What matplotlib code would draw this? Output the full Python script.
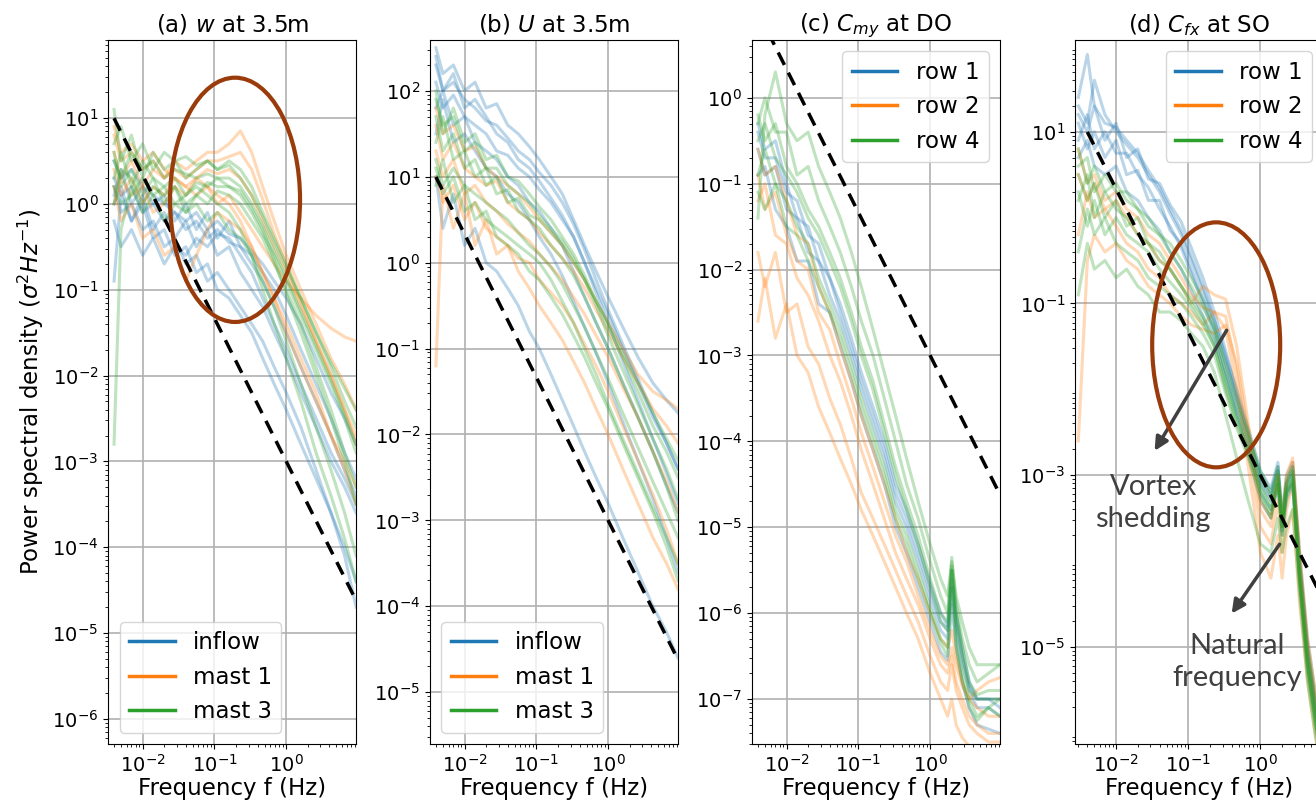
import numpy as np
import matplotlib.pyplot as plt
from matplotlib.patches import Ellipse
from matplotlib.lines import Line2D

plt.rcParams['font.family'] = ['DejaVu Sans']

# ---- frequency grids (Hz) ----
f_ab = [0.004, 0.005, 0.007, 0.01, 0.014, 0.02, 0.028, 0.04, 0.056, 0.08, 0.11,
        0.16, 0.23, 0.33, 0.47, 0.68, 1.0, 1.6, 2.6, 4.2, 6.5, 9.4]
f_c = [0.004, 0.005, 0.007, 0.01, 0.014, 0.02, 0.028, 0.04, 0.056, 0.08, 0.11,
       0.16, 0.23, 0.33, 0.47, 0.68, 1.0, 1.4, 1.75, 2.0, 2.3, 2.8, 3.5, 4.5, 6.5, 9.4]
f_d = [0.003, 0.004, 0.005, 0.007, 0.01, 0.014, 0.02, 0.028, 0.04, 0.056, 0.08, 0.11,
       0.16, 0.23, 0.33, 0.47, 0.68, 1.0, 1.4, 1.75, 2.0, 2.3, 2.8, 3.5, 4.5, 5.7, 7.4]

# ---- (a) w at 3.5m, log10 PSD ----
w_inflow = [
    [0.3, 0.1, 0.2, -0.1, 0.0, -0.2, -0.1, -0.3, -0.2, -0.4, -0.3, -0.45, -0.5, -0.7, -0.9, -1.2, -1.5, -1.9, -2.3, -2.7, -3.1, -3.4],
    [0.0, 0.2, -0.2, 0.1, -0.3, -0.1, -0.4, -0.2, -0.5, -0.3, -0.6, -0.5, -0.8, -1.0, -1.2, -1.5, -1.8, -2.2, -2.6, -3.0, -3.3, -3.6],
    [-0.9, 0.1, -0.2, 0.0, -0.4, -0.3, -0.6, -0.5, -0.8, -0.7, -1.0, -1.1, -1.3, -1.5, -1.8, -2.1, -2.4, -2.8, -3.2, -3.6, -4.0, -4.4],
    [0.5, 0.3, 0.4, 0.2, 0.1, 0.0, -0.1, -0.2, -0.1, -0.3, -0.2, -0.35, -0.4, -0.55, -0.7, -0.9, -1.1, -1.4, -1.8, -2.2, -2.5, -2.8],
    [0.2, -0.1, 0.0, -0.3, -0.2, -0.5, -0.4, -0.7, -0.6, -0.9, -0.8, -1.0, -1.2, -1.4, -1.6, -1.9, -2.2, -2.6, -3.1, -3.6, -4.1, -4.7],
    [-0.2, -0.5, -0.3, -0.6, -0.4, -0.7, -0.5, -0.6, -0.4, -0.5, -0.35, -0.4, -0.6, -0.8, -1.1, -1.4, -1.7, -2.1, -2.5, -2.9, -3.2, -3.5],
    [0.1, 0.4, 0.0, 0.2, 0.0, 0.1, -0.2, 0.0, -0.3, -0.1, -0.4, -0.2, -0.5, -0.6, -0.8, -1.0, -1.3, -1.7, -2.1, -2.5, -2.9, -3.2],
]
w_mast1 = [
    [0.8, 0.5, 0.6, 0.4, 0.5, 0.3, 0.5, 0.4, 0.5, 0.6, 0.6, 0.7, 0.85, 0.6, 0.2, -0.2, -0.6, -1.0, -1.4, -1.8, -2.1, -2.4],
    [0.4, 0.1, 0.3, 0.0, 0.2, 0.1, 0.3, 0.2, 0.3, 0.4, 0.35, 0.4, 0.3, 0.1, -0.2, -0.5, -0.8, -1.2, -1.6, -2.0, -2.4, -2.7],
    [0.2, -0.2, 0.0, -0.4, -0.3, -0.6, -0.5, -0.9, -0.6, -0.3, -0.1, -0.2, -0.3, -0.5, -0.8, -1.1, -1.4, -1.8, -2.2, -2.7, -3.1, -3.5],
    [0.9, 0.6, 0.7, 0.5, 0.6, 0.4, 0.3, 0.2, 0.1, 0.2, 0.0, 0.1, -0.1, -0.3, -0.5, -0.7, -0.9, -1.1, -1.3, -1.45, -1.55, -1.6],
    [0.0, 0.3, 0.1, 0.2, -0.1, 0.0, 0.2, 0.1, 0.3, 0.2, 0.1, 0.0, -0.2, -0.5, -0.8, -1.1, -1.5, -1.9, -2.3, -2.7, -3.0, -3.3],
    [0.6, 0.3, 0.5, 0.2, 0.4, 0.3, 0.4, 0.3, 0.4, 0.5, 0.5, 0.55, 0.6, 0.4, 0.05, -0.35, -0.7, -1.15, -1.6, -2.0, -2.4, -2.8],
]
w_mast3 = [
    [1.1, 0.5, 0.8, 0.3, 0.6, 0.4, 0.5, 0.3, 0.4, 0.5, 0.4, 0.5, 0.4, 0.2, -0.1, -0.4, -0.7, -1.1, -1.5, -1.9, -2.3, -2.6],
    [0.3, 0.6, 0.2, 0.5, 0.3, 0.2, 0.3, 0.1, 0.25, 0.2, 0.3, 0.2, 0.1, -0.1, -0.35, -0.6, -0.9, -1.3, -1.7, -2.1, -2.5, -2.9],
    [-2.8, -0.3, 0.2, -0.1, 0.1, -0.2, 0.0, -0.1, 0.1, 0.0, 0.15, 0.1, 0.0, -0.2, -0.4, -0.7, -1.0, -1.4, -1.9, -2.4, -2.9, -3.3],
    [0.6, 0.2, 0.4, 0.1, 0.3, 0.0, 0.2, -0.1, 0.0, -0.2, -0.1, -0.3, -0.4, -0.6, -0.9, -1.2, -1.6, -2.1, -2.6, -3.1, -3.6, -4.1],
    [0.7, 0.9, 0.5, 0.7, 0.4, 0.6, 0.5, 0.55, 0.45, 0.5, 0.4, 0.45, 0.3, 0.1, -0.15, -0.45, -0.75, -1.1, -1.5, -1.85, -2.15, -2.4],
    [0.2, 0.0, 0.1, 0.3, 0.1, 0.2, 0.0, 0.1, 0.2, 0.1, 0.0, -0.1, -0.3, -0.6, -1.0, -1.4, -1.8, -2.3, -2.9, -3.4, -3.9, -4.4],
    [0.5, 0.3, 0.6, 0.4, 0.5, 0.3, 0.4, 0.35, 0.3, 0.35, 0.3, 0.3, 0.2, 0.0, -0.25, -0.55, -0.85, -1.25, -1.65, -2.05, -2.45, -2.8],
    [0.0, 0.4, 0.3, 0.0, 0.2, 0.1, 0.2, 0.0, 0.1, 0.25, 0.2, 0.2, 0.15, -0.05, -0.3, -0.65, -1.05, -1.5, -2.0, -2.5, -3.0, -3.5],
]

# ---- (b) U at 3.5m ----
u_inflow = [
    [2.5, 2.2, 2.3, 2.0, 2.1, 1.8, 1.85, 1.6, 1.5, 1.35, 1.2, 1.0, 0.8, 0.5, 0.2, -0.1, -0.4, -0.75, -1.1, -1.4, -1.6, -1.75],
    [2.1, 1.8, 1.95, 1.7, 1.6, 1.5, 1.3, 1.25, 1.1, 1.0, 0.85, 0.7, 0.5, 0.3, 0.0, -0.3, -0.6, -1.0, -1.4, -1.8, -2.1, -2.4],
    [1.8, 2.0, 1.6, 1.7, 1.4, 1.3, 1.2, 1.0, 0.9, 0.7, 0.6, 0.4, 0.2, -0.1, -0.4, -0.7, -1.0, -1.4, -1.8, -2.2, -2.6, -2.9],
    [1.0, 0.4, 0.8, 0.2, 0.4, 0.0, -0.1, -0.3, -0.5, -0.8, -1.0, -1.3, -1.6, -1.9, -2.2, -2.5, -2.8, -3.2, -3.6, -4.0, -4.3, -4.6],
    [2.3, 2.0, 2.1, 1.9, 1.8, 1.65, 1.6, 1.45, 1.3, 1.2, 1.05, 0.9, 0.7, 0.45, 0.15, -0.2, -0.55, -0.95, -1.35, -1.75, -2.1, -2.4],
    [2.4, 2.0, 2.2, 1.8, 1.9, 1.7, 1.5, 1.4, 1.2, 1.1, 0.95, 0.75, 0.55, 0.3, 0.0, -0.35, -0.7, -1.15, -1.6, -2.05, -2.45, -2.8],
    [1.5, 1.9, 1.4, 1.5, 1.3, 1.1, 1.0, 0.8, 0.7, 0.5, 0.3, 0.1, -0.15, -0.45, -0.75, -1.05, -1.4, -1.85, -2.3, -2.75, -3.2, -3.6],
]
u_mast1 = [
    [1.6, 1.2, 1.4, 1.1, 1.0, 0.9, 0.95, 0.7, 0.6, 0.5, 0.35, 0.2, 0.05, -0.1, -0.3, -0.55, -0.8, -1.1, -1.4, -1.7, -1.9, -2.1],
    [1.0, 0.7, 0.9, 0.5, 0.7, 0.4, 0.3, 0.2, 0.05, 0.0, -0.2, -0.35, -0.5, -0.7, -0.95, -1.2, -1.5, -1.9, -2.3, -2.7, -3.1, -3.5],
    [-1.2, 0.9, 0.4, 0.8, 0.2, 0.5, 0.1, 0.2, -0.1, -0.3, -0.5, -0.7, -0.9, -1.15, -1.4, -1.7, -2.0, -2.4, -2.8, -3.2, -3.5, -3.8],
    [1.8, 1.5, 1.6, 1.3, 1.35, 1.1, 1.0, 0.9, 0.8, 0.65, 0.5, 0.35, 0.2, 0.0, -0.2, -0.45, -0.7, -1.0, -1.3, -1.5, -1.6, -1.7],
    [1.3, 1.0, 1.2, 0.8, 0.9, 0.7, 0.6, 0.45, 0.35, 0.25, 0.1, -0.05, -0.2, -0.4, -0.6, -0.85, -1.1, -1.45, -1.8, -2.2, -2.55, -2.9],
]
u_mast3 = [
    [2.0, 1.5, 1.8, 1.4, 1.5, 1.2, 1.25, 1.0, 0.95, 0.8, 0.65, 0.5, 0.3, 0.1, -0.15, -0.45, -0.75, -1.1, -1.5, -1.9, -2.2, -2.5],
    [1.4, 1.7, 1.2, 1.3, 1.0, 1.1, 0.8, 0.85, 0.6, 0.5, 0.4, 0.2, 0.05, -0.15, -0.4, -0.7, -1.0, -1.4, -1.8, -2.2, -2.6, -3.0],
    [0.9, 1.2, 0.7, 0.9, 0.5, 0.6, 0.3, 0.2, 0.1, -0.1, -0.2, -0.4, -0.6, -0.85, -1.1, -1.4, -1.7, -2.1, -2.5, -2.9, -3.3, -3.7],
    [1.7, 1.3, 1.5, 1.1, 1.2, 0.9, 1.0, 0.7, 0.75, 0.55, 0.5, 0.35, 0.2, 0.0, -0.2, -0.45, -0.7, -1.05, -1.4, -1.75, -2.05, -2.3],
    [1.1, 0.8, 1.0, 0.6, 0.7, 0.5, 0.4, 0.3, 0.2, 0.1, 0.0, -0.2, -0.45, -0.7, -1.0, -1.3, -1.65, -2.05, -2.45, -2.85, -3.2, -3.5],
    [1.9, 1.6, 1.7, 1.3, 1.4, 1.1, 1.1, 0.9, 0.8, 0.7, 0.55, 0.4, 0.25, 0.05, -0.2, -0.5, -0.85, -1.25, -1.65, -2.05, -2.4, -2.75],
    [1.2, 0.9, 1.1, 0.9, 0.8, 0.7, 0.6, 0.5, 0.35, 0.2, 0.1, -0.05, -0.25, -0.5, -0.75, -1.05, -1.35, -1.75, -2.15, -2.55, -2.9, -3.2],
]

# ---- (c) C_my at DO ----
cmy_row1 = [
    [-0.4, -0.7, -0.7, -1.1, -1.2, -1.6, -1.7, -2.1, -2.4, -2.8, -3.2, -3.6, -4.0, -4.5, -4.8, -5.2, -5.65, -6.0, -6.15, -5.5, -6.0, -6.4, -6.8, -7.0, -7.0, -7.1],
    [-0.6, -0.9, -0.8, -1.3, -1.4, -1.8, -1.9, -2.3, -2.6, -3.0, -3.4, -3.8, -4.2, -4.7, -5.0, -5.4, -5.85, -6.2, -6.3, -5.6, -6.2, -6.6, -6.9, -7.1, -7.1, -7.2],
    [-0.9, -0.8, -1.3, -1.5, -1.9, -1.9, -2.4, -2.5, -2.9, -3.3, -3.7, -4.1, -4.5, -5.0, -5.3, -5.7, -6.1, -6.45, -6.55, -5.9, -6.4, -6.8, -7.1, -7.3, -7.35, -7.4],
    [-0.3, -0.6, -0.5, -1.0, -1.4, -1.5, -1.9, -2.1, -2.5, -2.9, -3.3, -3.7, -4.1, -4.6, -4.9, -5.3, -5.75, -6.1, -6.2, -5.7, -6.1, -6.5, -6.85, -7.0, -7.0, -7.0],
]
cmy_row2 = [
    [-0.6, -0.9, -0.8, -1.2, -1.6, -1.7, -2.2, -2.5, -2.9, -3.3, -3.7, -4.1, -4.5, -4.9, -5.3, -5.6, -6.0, -6.3, -6.4, -6.2, -6.5, -6.8, -7.0, -7.1, -7.2, -7.2],
    [-1.2, -1.0, -1.6, -1.7, -2.1, -2.3, -2.6, -3.0, -3.3, -3.7, -4.1, -4.5, -4.9, -5.3, -5.6, -5.9, -6.3, -6.6, -6.7, -6.5, -6.8, -7.0, -7.2, -7.3, -7.4, -7.4],
    [-1.8, -2.2, -1.8, -2.5, -2.4, -2.9, -3.1, -3.5, -3.8, -4.2, -4.6, -4.9, -5.2, -5.5, -5.8, -6.1, -6.5, -6.8, -6.9, -6.6, -6.9, -7.1, -7.3, -7.4, -7.5, -7.5],
    [-0.9, -1.3, -1.1, -1.6, -1.9, -2.0, -2.5, -2.7, -3.1, -3.5, -3.9, -4.3, -4.7, -5.1, -5.4, -5.8, -6.2, -6.5, -6.6, -6.4, -6.6, -6.85, -7.0, -6.9, -6.8, -6.75],
    [-2.6, -2.1, -2.8, -2.4, -3.0, -3.2, -3.6, -3.9, -4.2, -4.5, -4.8, -5.1, -5.4, -5.7, -6.0, -6.3, -6.7, -7.0, -7.2, -7.0, -7.3, -7.45, -7.55, -7.6, -7.6, -7.6],
]
cmy_row4 = [
    [-0.5, -0.3, -0.7, -0.9, -1.1, -1.4, -1.6, -1.9, -2.2, -2.6, -3.0, -3.4, -3.9, -4.4, -4.8, -5.2, -5.7, -6.1, -6.2, -5.5, -6.1, -6.5, -6.9, -7.0, -7.0, -7.0],
    [-0.9, -0.6, -1.0, -1.2, -1.5, -1.7, -2.1, -2.4, -2.7, -3.1, -3.5, -3.9, -4.3, -4.8, -5.1, -5.5, -5.95, -6.3, -6.4, -5.5, -6.3, -6.7, -7.0, -7.2, -7.1, -7.2],
    [-1.4, -0.2, 0.3, -0.3, -0.5, -0.4, -0.8, -1.1, -1.4, -1.8, -2.2, -2.7, -3.2, -3.7, -4.2, -4.7, -5.2, -5.6, -5.8, -5.4, -5.8, -6.1, -6.4, -6.6, -6.6, -6.6],
    [-0.2, -0.5, -0.3, -0.8, -1.0, -1.3, -1.5, -1.8, -2.1, -2.5, -2.9, -3.3, -3.8, -4.3, -4.7, -5.1, -5.6, -6.0, -6.1, -5.45, -6.0, -6.4, -6.8, -6.95, -6.9, -6.9],
    [-1.1, -1.3, -1.0, -1.5, -1.6, -1.9, -2.2, -2.5, -2.8, -3.2, -3.6, -4.0, -4.4, -4.9, -5.2, -5.6, -6.0, -6.35, -6.5, -5.7, -6.4, -6.8, -7.1, -7.25, -7.1, -7.0],
    [-0.3, 0.0, -0.4, -0.4, -0.9, -0.8, -1.2, -1.5, -1.8, -2.2, -2.6, -3.0, -3.5, -4.0, -4.5, -4.9, -5.4, -5.8, -6.0, -5.35, -5.9, -6.3, -6.6, -6.8, -6.7, -6.6],
]

# ---- (d) C_fx at SO ----
cfx_row1 = [
    [1.3, 1.1, 1.6, 1.2, 1.0, 0.85, 0.7, 0.5, 0.3, 0.05, -0.2, -0.5, -0.85, -1.2, -1.65, -2.1, -2.55, -3.0, -3.2, -2.9, -3.5, -3.1, -2.9, -4.0, -5.0, -5.6, -6.2],
    [0.9, 1.2, 0.8, 1.0, 0.75, 0.75, 0.5, 0.35, 0.1, -0.1, -0.35, -0.65, -1.0, -1.35, -1.8, -2.25, -2.65, -3.1, -3.3, -3.0, -3.6, -3.2, -3.0, -4.1, -5.1, -5.7, -6.3],
    [1.1, 0.8, 1.0, 0.7, 0.9, 0.5, 0.55, 0.2, 0.2, -0.15, -0.3, -0.6, -0.95, -1.3, -1.7, -2.15, -2.6, -3.2, -3.4, -3.1, -3.65, -3.2, -3.1, -4.2, -5.1, -5.7, -6.3],
    [0.7, 0.9, 0.6, 0.5, 0.6, 0.3, 0.2, 0.0, -0.15, -0.4, -0.6, -0.85, -1.15, -1.45, -1.85, -2.3, -2.75, -3.3, -3.5, -3.1, -3.7, -3.3, -3.1, -4.2, -5.2, -5.8, -6.4],
    [1.4, 1.9, 1.3, 1.1, 1.05, 0.9, 0.75, 0.55, 0.35, 0.1, -0.15, -0.45, -0.8, -1.2, -1.6, -2.0, -2.45, -2.95, -3.15, -2.85, -3.45, -3.0, -2.85, -3.9, -4.9, -5.5, -6.1],
    [1.2, 1.0, 1.3, 0.9, 1.1, 0.7, 0.8, 0.45, 0.4, 0.15, -0.05, -0.35, -0.7, -1.1, -1.55, -2.05, -2.5, -3.05, -3.25, -2.95, -3.55, -3.1, -2.95, -4.05, -5.05, -5.65, -6.25],
]
cfx_row2 = [
    [0.5, 0.2, 0.4, 0.1, 0.2, 0.0, -0.2, -0.3, -0.5, -0.6, -0.8, -1.0, -0.8, -0.9, -0.95, -1.5, -2.4, -3.3, -3.5, -3.0, -3.6, -3.1, -2.85, -4.0, -5.0, -5.6, -6.2],
    [-0.2, 0.3, 0.0, 0.1, -0.1, -0.3, -0.4, -0.6, -0.7, -0.9, -1.0, -1.1, -1.25, -1.1, -1.15, -1.8, -2.7, -3.6, -3.8, -3.3, -3.9, -3.4, -3.1, -4.2, -5.2, -5.8, -6.4],
    [0.8, 0.4, 0.5, 0.2, 0.3, 0.1, 0.0, -0.2, -0.3, -0.5, -0.7, -0.9, -1.05, -1.1, -1.3, -2.0, -2.9, -3.9, -4.2, -3.7, -4.2, -3.7, -3.4, -4.5, -5.4, -6.0, -6.6],
    [-2.6, -0.5, -0.2, -0.4, -0.3, -0.5, -0.6, -0.8, -0.9, -1.0, -1.15, -1.25, -1.3, -1.35, -1.25, -1.7, -2.5, -3.4, -3.6, -3.0, -3.5, -3.0, -2.8, -3.9, -4.9, -5.5, -6.1],
]
cfx_row4 = [
    [0.8, 0.4, 0.6, 0.3, 0.4, 0.2, 0.1, -0.1, -0.2, -0.4, -0.6, -0.8, -1.05, -1.3, -1.8, -2.2, -2.55, -3.0, -3.25, -2.95, -3.55, -3.1, -2.95, -4.1, -5.1, -5.7, -6.3],
    [0.2, 0.5, 0.0, 0.3, 0.1, 0.0, -0.2, -0.3, -0.5, -0.6, -0.8, -0.95, -1.15, -1.4, -1.9, -2.3, -2.65, -3.1, -3.35, -3.0, -3.6, -3.15, -3.0, -4.2, -5.2, -5.8, -6.4],
    [-0.4, 0.1, -0.2, 0.0, -0.3, -0.4, -0.5, -0.7, -0.8, -0.9, -1.0, -1.15, -1.35, -1.6, -2.05, -2.45, -2.8, -3.25, -3.5, -3.1, -3.7, -3.25, -3.1, -4.3, -5.3, -5.9, -6.5],
    [0.5, 0.2, 0.4, 0.0, 0.2, -0.1, 0.0, -0.3, -0.4, -0.6, -0.8, -1.0, -1.2, -1.5, -2.0, -2.4, -2.75, -3.15, -3.4, -3.05, -3.6, -3.2, -3.05, -4.2, -5.2, -5.8, -6.4],
    [-0.9, -0.3, -0.6, -0.5, -0.7, -0.6, -0.8, -0.9, -1.1, -1.1, -1.2, -1.35, -1.5, -1.8, -2.3, -2.8, -3.3, -3.8, -3.9, -3.5, -3.9, -3.6, -3.4, -4.4, -5.4, -6.0, -6.6],
    [0.6, 0.7, 0.3, 0.5, 0.3, 0.3, 0.1, 0.0, -0.2, -0.3, -0.5, -0.7, -0.95, -1.25, -1.7, -2.1, -2.5, -2.95, -3.2, -2.9, -3.5, -3.05, -2.9, -4.0, -5.0, -5.6, -6.2],
    [0.3, -0.1, 0.2, -0.2, 0.0, -0.2, -0.3, -0.4, -0.6, -0.75, -0.9, -1.05, -1.25, -1.5, -1.95, -2.35, -2.7, -3.2, -3.45, -3.1, -3.65, -3.2, -3.05, -4.25, -5.25, -5.85, -6.45],
]

# -5/3 reference slope: level at 1 Hz and exponent
ref_level = 1e-3
ref_slope = -5.0 / 3.0

colors = ['#1f77b4', '#ff7f0e', '#2ca02c']
xticks = [1e-2, 1e-1, 1e0]

panels = [
    dict(title='(a) $w$ at 3.5m', f=f_ab, groups=[w_inflow, w_mast1, w_mast3],
         labels=['inflow', 'mast 1', 'mast 3'], loc='lower left',
         xlim=(0.0033, 9.4), ylim=(5.1e-7, 81), ref_f=(0.004, 9.4), yticks=None),
    dict(title='(b) $U$ at 3.5m', f=f_ab, groups=[u_inflow, u_mast1, u_mast3],
         labels=['inflow', 'mast 1', 'mast 3'], loc='lower left',
         xlim=(0.0033, 9.4), ylim=(2.5e-6, 390), ref_f=(0.004, 9.4), yticks=None),
    dict(title='(c) $C_{my}$ at DO', f=f_c, groups=[cmy_row1, cmy_row2, cmy_row4],
         labels=['row 1', 'row 2', 'row 4'], loc='upper right',
         xlim=(0.0033, 9.4), ylim=(3.0e-8, 4.7), ref_f=(0.004, 9.4), yticks=None),
    dict(title='(d) $C_{fx}$ at SO', f=f_d, groups=[cfx_row1, cfx_row2, cfx_row4],
         labels=['row 1', 'row 2', 'row 4'], loc='upper right',
         xlim=(0.0027, 7.4), ylim=(7.4e-7, 117), ref_f=(0.004, 7.4),
         yticks=[1e1, 1e-1, 1e-3, 1e-5]),
]

fig = plt.figure(figsize=(13.16, 8.07), dpi=100)
lefts = [0.0821, 0.3267, 0.5714, 0.8169]
axes = []
for left, p in zip(lefts, panels):
    ax = fig.add_axes([left, 0.0781, 0.1885, 0.8723])
    axes.append(ax)
    f = np.array(p['f'])
    for group, c in zip(p['groups'], colors):
        for curve in group:
            ax.plot(f, 10.0 ** np.array(curve), color=c, alpha=0.3, lw=2.2)
    rf = np.array(p['ref_f'])
    ax.plot(rf, ref_level * rf ** ref_slope, 'k--', lw=2.5, dashes=(4, 2.5))
    ax.set_xscale('log')
    ax.set_yscale('log')
    ax.set_xticks(xticks)
    if p['yticks'] is not None:
        ax.set_yticks(p['yticks'])
    ax.set_xlim(*p['xlim'])
    ax.set_ylim(*p['ylim'])
    ax.grid(True, which='major', color='#b0b0b0', lw=1.2)
    ax.set_title(p['title'], fontsize=16.5)
    ax.set_xlabel('Frequency f (Hz)', fontsize=16.5, labelpad=1)
    ax.tick_params(labelsize=14)
    handles = [Line2D([], [], color=c, lw=2.5) for c in colors]
    ax.legend(handles, p['labels'], loc=p['loc'], fontsize=16.5)

axes[0].set_ylabel(r'Power spectral density ($\sigma^2 Hz^{-1}$)', fontsize=16.5)

# highlight ellipses
brown = '#9a3b0b'
axes[0].add_patch(Ellipse((0.512, 0.773), 0.524, 0.347, transform=axes[0].transAxes,
                          fill=False, ec=brown, lw=3, zorder=5))
axes[3].add_patch(Ellipse((0.569, 0.567), 0.516, 0.348, transform=axes[3].transAxes,
                          fill=False, ec=brown, lw=3, zorder=5))

# annotations on panel (d)
note_style = dict(fontsize=21, color='#404040', ha='center', va='center',
                  family=['Lato', 'DejaVu Sans'], transform=axes[3].transAxes)
arrow = dict(arrowstyle='-|>,head_length=0.8,head_width=0.4', color='#404040', lw=2.5)
axes[3].annotate('', xy=(0.315, 0.413), xytext=(0.617, 0.591),
                 xycoords='axes fraction', textcoords='axes fraction', arrowprops=arrow)
axes[3].annotate('', xy=(0.625, 0.182), xytext=(0.831, 0.287),
                 xycoords='axes fraction', textcoords='axes fraction', arrowprops=arrow)
axes[3].text(0.315, 0.342, 'Vortex\nshedding', linespacing=1.3, **note_style)
axes[3].text(0.653, 0.116, 'Natural\nfrequency', linespacing=1.3, **note_style)

fig.savefig('out.png', dpi=100)
